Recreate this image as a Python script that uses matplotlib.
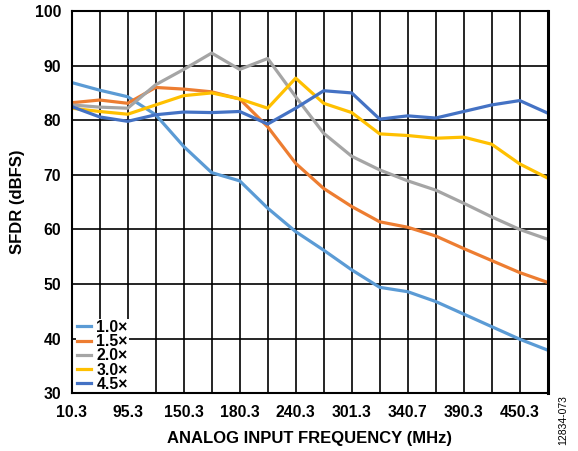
import numpy as np
import matplotlib.pyplot as plt

plt.rcParams['font.family'] = ['Liberation Sans', 'DejaVu Sans']

# frequency axis is categorical, only every other point is labelled
freq_labels = ["10.3", "95.3", "150.3", "180.3", "240.3", "301.3", "340.7", "390.3", "450.3"]
n_points = 18

sfdr_1p0 = [86.9, 85.5, 84.3, 81.0, 75.2, 70.4, 68.9, 63.9, 59.6, 56.2,
            52.6, 49.4, 48.6, 46.8, 44.5, 42.2, 39.9, 37.9]
sfdr_1p5 = [83.2, 83.7, 83.1, 86.0, 85.7, 85.2, 83.9, 78.8, 72.1, 67.5,
            64.2, 61.4, 60.4, 58.8, 56.5, 54.3, 52.1, 50.3]
sfdr_2p0 = [82.8, 82.4, 82.2, 86.5, 89.3, 92.3, 89.3, 91.3, 84.3, 77.6,
            73.4, 70.9, 68.9, 67.2, 64.8, 62.3, 60.0, 58.2]
sfdr_3p0 = [82.2, 81.6, 81.1, 82.8, 84.5, 85.0, 83.9, 82.2, 87.7, 83.1,
            81.4, 77.5, 77.2, 76.7, 76.9, 75.6, 72.0, 69.4]
sfdr_4p5 = [82.5, 80.6, 79.8, 81.0, 81.5, 81.4, 81.6, 79.3, 82.2, 85.4,
            85.0, 80.2, 80.8, 80.4, 81.6, 82.8, 83.6, 81.3]

series = [
    ("1.0×", sfdr_1p0, "#5B9BD5"),
    ("1.5×", sfdr_1p5, "#ED7D31"),
    ("2.0×", sfdr_2p0, "#A5A5A5"),
    ("3.0×", sfdr_3p0, "#FFC000"),
    ("4.5×", sfdr_4p5, "#4472C4"),
]

fig = plt.figure(figsize=(5.78, 4.51), dpi=100)
ax = fig.add_axes([0.124, 0.128, 0.8236, 0.8476])

x = np.arange(n_points)
for name, vals, col in series:
    ax.plot(x, vals, color=col, lw=2.3, label=name, zorder=3)

ax.set_xlim(0, n_points - 1)
ax.set_ylim(30, 100)
ax.set_xticks(x, minor=True)
ax.set_xticks(x[::2])
ax.set_xticklabels(freq_labels)
ax.set_yticks(np.arange(30, 101, 10))

ax.grid(True, which='both', axis='x', color='black', lw=1.2)
ax.grid(True, which='major', axis='y', color='black', lw=1.2)
ax.tick_params(which='both', length=0, labelsize=11.3)
ax.tick_params(axis='x', pad=8.5)
ax.tick_params(axis='y', pad=7.5)
for lab in ax.get_xticklabels() + ax.get_yticklabels():
    lab.set_fontweight('bold')
for s in ax.spines.values():
    s.set_linewidth(1.5)
    s.set_zorder(6)
ax.spines['right'].set_linewidth(2.2)

ax.set_xlabel("ANALOG INPUT FREQUENCY (MHz)", fontsize=12, fontweight='bold', labelpad=8)
ax.set_ylabel("SFDR (dBFS)", fontsize=12, fontweight='bold', labelpad=7)

leg = ax.legend(loc='lower left', bbox_to_anchor=(0.009, 0.002), frameon=True,
                fancybox=False, framealpha=1, edgecolor='white',
                handlelength=0.9, handletextpad=0.35, labelspacing=-0.05,
                borderpad=0.05, borderaxespad=0.0,
                prop={'weight': 'bold', 'size': 11.3})
leg.get_frame().set_linewidth(0)
leg.set_zorder(5)

fig.text(0.974, 0.069, "12834-073", rotation=90, fontsize=7.5, ha='center', va='center')

fig.savefig("out.png", dpi=100)
